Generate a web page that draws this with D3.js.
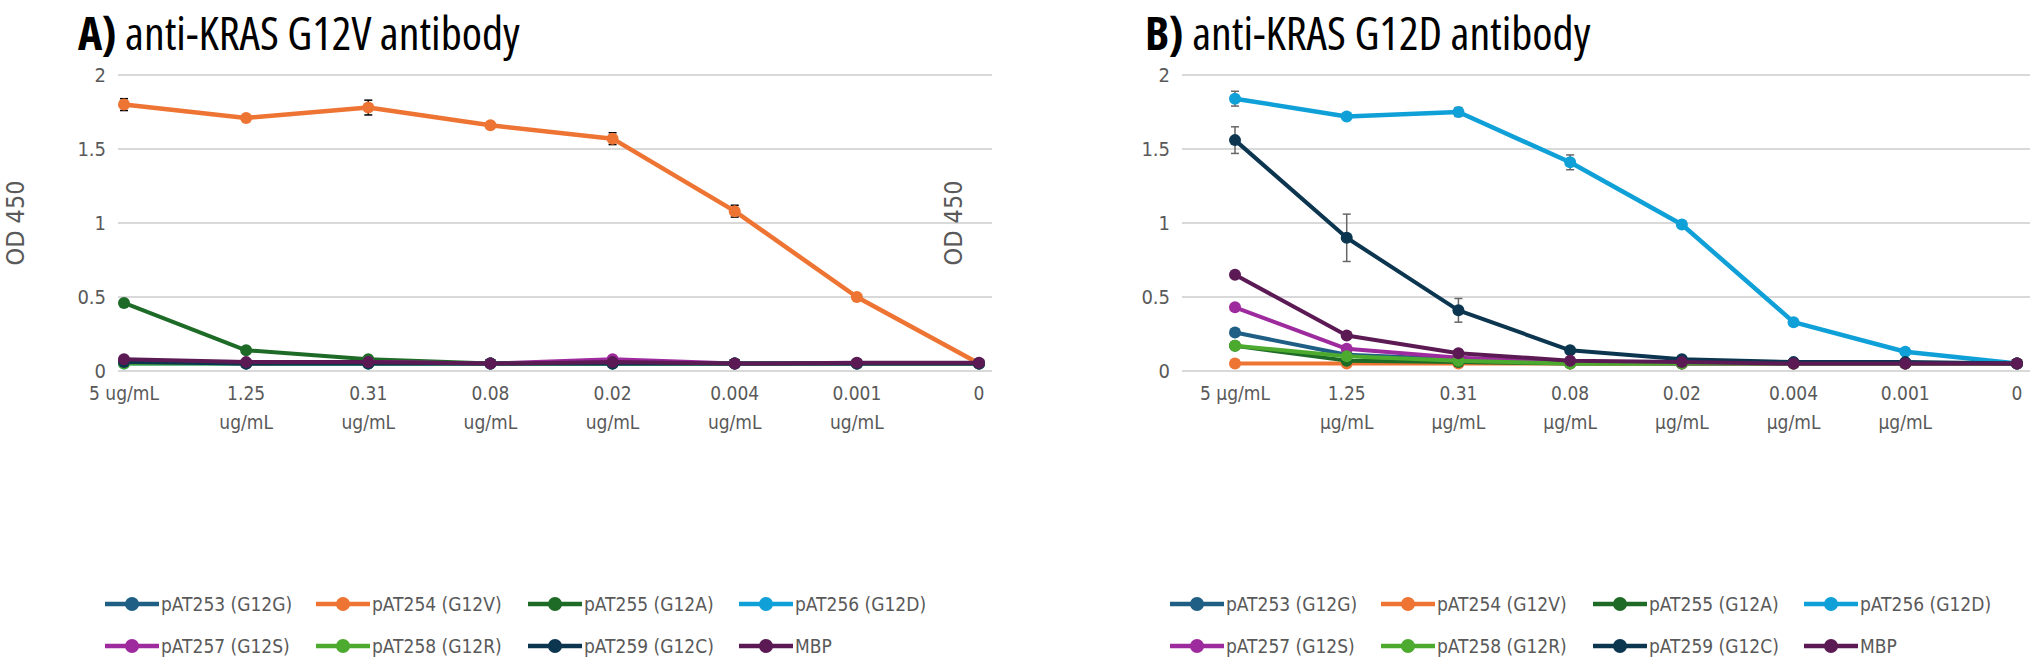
<!DOCTYPE html>
<html><head><meta charset="utf-8">
<script src="https://cdn.jsdelivr.net/npm/d3@7"></script>
<style>
body{margin:0;background:#fff;}
text{font-family:"DejaVu Sans Condensed","Liberation Sans Narrow",sans-serif;font-stretch:condensed;}
</style></head>
<body><svg id="chart" width="2040" height="657"></svg>
<script>
var seriesNames = ["pAT253 (G12G)","pAT254 (G12V)","pAT255 (G12A)","pAT256 (G12D)","pAT257 (G12S)","pAT258 (G12R)","pAT259 (G12C)","MBP"];
var colors = ["#1f5f85","#ee7433","#1e6b27","#0fa0d8","#9e2b9e","#4caa2f","#0c3550","#5c1a55"];

var catsA = ["5 ug/mL","1.25|ug/mL","0.31|ug/mL","0.08|ug/mL","0.02|ug/mL","0.004|ug/mL","0.001|ug/mL","0"];
var catsB = ["5 µg/mL","1.25|µg/mL","0.31|µg/mL","0.08|µg/mL","0.02|µg/mL","0.004|µg/mL","0.001|µg/mL","0"];

var valuesA = [
  [0.06,0.05,0.05,0.05,0.05,0.05,0.05,0.05],
  [1.80,1.71,1.78,1.66,1.57,1.08,0.50,0.05],
  [0.46,0.14,0.08,0.05,0.05,0.05,0.05,0.05],
  [0.05,0.05,0.05,0.05,0.05,0.05,0.05,0.05],
  [0.07,0.05,0.06,0.05,0.08,0.05,0.05,0.05],
  [0.05,0.05,0.05,0.05,0.05,0.05,0.05,0.05],
  [0.06,0.05,0.05,0.05,0.05,0.05,0.05,0.05],
  [0.08,0.06,0.06,0.05,0.06,0.05,0.055,0.055]
];
var errA = [null,[0.04,0.015,0.05,0.02,0.04,0.04,0.01,0],null,null,null,null,null,null];

var valuesB = [
  [0.26,0.11,0.08,0.06,0.06,0.05,0.05,0.05],
  [0.05,0.05,0.05,0.05,0.05,0.05,0.05,0.05],
  [0.17,0.07,0.06,0.05,0.05,0.05,0.05,0.05],
  [1.84,1.72,1.75,1.41,0.99,0.33,0.13,0.05],
  [0.43,0.15,0.09,0.06,0.05,0.05,0.05,0.05],
  [0.17,0.10,0.07,0.05,0.05,0.05,0.05,0.05],
  [1.56,0.90,0.41,0.14,0.08,0.06,0.06,0.05],
  [0.65,0.24,0.12,0.07,0.06,0.05,0.05,0.05]
];
var errB = [null,null,null,[0.05,0.02,0.03,0.05,0.01,0,0,0],null,null,[0.09,0.16,0.08,0.01,0,0,0,0],null];

var yTicks = [0,0.5,1,1.5,2];

var svg = d3.select("#chart");

function panel(opt){
  var g = svg.append("g");
  var x = d3.scalePoint().domain(d3.range(8)).range([opt.x0,opt.x1]);
  var y = d3.scaleLinear().domain([0,2]).range([371,75]);

  var t = g.append("text").attr("x",opt.tx).attr("y",50).attr("font-size",46).attr("fill","#000")
    .style("font-family","'Open Sans','DejaVu Sans Condensed',sans-serif");
  t.append("tspan").attr("font-weight","bold").text(opt.title[0]);
  t.append("tspan").text(opt.title[1]);

  g.selectAll(".grid").data(yTicks).enter().append("line")
    .attr("x1",opt.g0).attr("x2",opt.g1).attr("y1",function(d){return y(d);}).attr("y2",function(d){return y(d);})
    .attr("stroke","#d9d9d9").attr("stroke-width",2);
  g.selectAll(".yl").data(yTicks).enter().append("text")
    .attr("x",opt.g0-12).attr("y",function(d){return y(d)+7;}).attr("text-anchor","end")
    .attr("font-size",20).attr("fill","#595959").text(function(d){return d;});
  g.append("text").attr("transform","translate("+opt.lx+",223) rotate(-90)").attr("text-anchor","middle")
    .attr("font-size",25).attr("fill","#595959").style("font-family","'DejaVu Sans',sans-serif").text("OD 450");

  opt.cats.forEach(function(c,i){
    var lines = c.split("|");
    var tx = g.append("text").attr("x",x(i)).attr("y",400).attr("text-anchor","middle")
      .attr("font-size",19).attr("fill","#595959");
    lines.forEach(function(l,j){ tx.append("tspan").attr("x",x(i)).attr("dy",j?29:0).text(l); });
  });

  var line = d3.line().x(function(d,i){return x(i);}).y(function(d){return y(d);});
  opt.values.forEach(function(vals,s){
    var main = opt.main.indexOf(s)>=0;
    g.append("path").attr("d",line(vals)).attr("fill","none").attr("stroke",colors[s])
      .attr("stroke-width",main?4.5:4).attr("stroke-linejoin","round");
    if(opt.err[s]){
      opt.err[s].forEach(function(e,i){
        if(!e) return;
        var eg = g.append("g").attr("stroke",opt.errColor).attr("stroke-width",1.5);
        eg.append("line").attr("x1",x(i)).attr("x2",x(i)).attr("y1",y(vals[i]-e)).attr("y2",y(vals[i]+e));
        [vals[i]-e,vals[i]+e].forEach(function(v){
          eg.append("line").attr("x1",x(i)-4).attr("x2",x(i)+4).attr("y1",y(v)).attr("y2",y(v));
        });
      });
    }
    g.selectAll(null).data(vals).enter().append("circle")
      .attr("cx",function(d,i){return x(i);}).attr("cy",function(d){return y(d);})
      .attr("r",6).attr("fill",colors[s]);
  });

  var lx = [opt.lg, opt.lg+211, opt.lg+423, opt.lg+634];
  seriesNames.forEach(function(n,s){
    var px = lx[s%4], py = s<4?604:646;
    g.append("line").attr("x1",px).attr("x2",px+54).attr("y1",py).attr("y2",py).attr("stroke",colors[s]).attr("stroke-width",4.5);
    g.append("circle").attr("cx",px+27).attr("cy",py).attr("r",7).attr("fill",colors[s]);
    g.append("text").attr("x",px+56).attr("y",py+7).attr("font-size",19).attr("fill","#595959").text(n);
  });
}

panel({x0:124,x1:979,g0:118,g1:992,tx:78,lx:24,title:["A)"," anti-KRAS G12V antibody"],
  cats:catsA,values:valuesA,err:errA,errColor:"#000",main:[1],lg:105});
panel({x0:1235,x1:2017,g0:1182,g1:2030,tx:1145,lx:962,title:["B)"," anti-KRAS G12D antibody"],
  cats:catsB,values:valuesB,err:errB,errColor:"#666",main:[3],lg:1170});
</script></body></html>
